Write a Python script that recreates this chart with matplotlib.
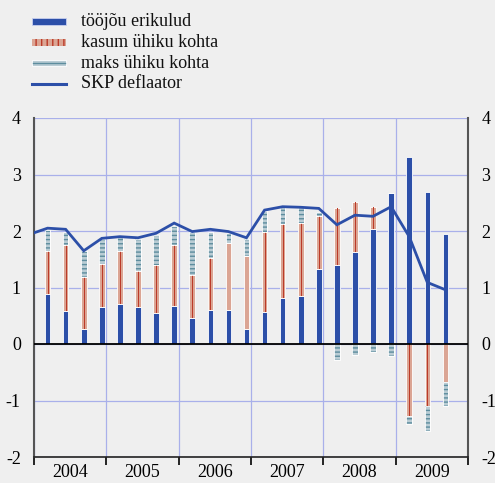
import numpy as np
import matplotlib
matplotlib.use("Agg")
import matplotlib.pyplot as plt
from matplotlib.patches import Rectangle
from matplotlib.lines import Line2D

plt.rcParams['font.family'] = ['Liberation Serif', 'DejaVu Serif']
plt.rcParams['axes.unicode_minus'] = False
plt.rcParams['hatch.linewidth'] = 1.0

# Quarterly contributions, 2004Q1 - 2009Q3 (percentage points)
years = ['2004', '2005', '2006', '2007', '2008', '2009']
labour = [0.89, 0.59, 0.26, 0.66, 0.71, 0.66, 0.55, 0.68, 0.46, 0.61, 0.60, 0.27,
          0.57, 0.82, 0.85, 1.33, 1.40, 1.63, 2.04, 2.68, 3.31, 2.69, 1.95]
profit = [0.75, 1.17, 0.93, 0.76, 0.93, 0.64, 0.84, 1.08, 0.76, 0.91, 1.19, 1.28,
          1.42, 1.31, 1.30, 0.94, 1.01, 0.89, 0.39, 0.00, -1.28, -1.10, -0.67]
tax = [0.38, 0.23, 0.45, 0.44, 0.25, 0.56, 0.54, 0.33, 0.76, 0.47, 0.17, 0.31,
       0.37, 0.29, 0.27, 0.06, -0.29, -0.20, -0.14, -0.22, -0.14, -0.44, -0.43]
# GDP deflator, starting with 2003Q4 so the line enters from the left edge
deflator = [1.94, 2.05, 2.03, 1.65, 1.87, 1.90, 1.88, 1.96, 2.14, 1.99, 2.03, 1.99, 1.88,
            2.37, 2.43, 2.42, 2.40, 2.11, 2.28, 2.26, 2.43, 1.90, 1.09, 0.96]

labels = ['tööjõu erikulud', 'kasum ühiku kohta', 'maks ühiku kohta', 'SKP deflaator']

BG = '#efefef'
BLUE = '#2c4fa8'
SALMON = '#dba594'
DARKRED = '#bb3a28'
TAXFILL = '#b9ccd4'
TAXLINE = '#5d8d9e'
GRID = '#a9b0ea'
FS = 13

W, H = 495, 483
fig = plt.figure(figsize=(W / 100, H / 100), dpi=100, facecolor=BG)
ax = fig.add_axes([34 / W, 26 / H, 434 / W, 339 / H], facecolor=BG)

n = len(labour)
x = np.arange(n) + 0.75
bw = 0.31

pos = np.zeros(n)
neg = np.zeros(n)

def stack(vals):
    vals = np.asarray(vals, dtype=float)
    bottom = np.where(vals >= 0, pos, neg)
    pos[:] += np.where(vals >= 0, vals, 0)
    neg[:] += np.where(vals < 0, vals, 0)
    return vals, bottom

v, b = stack(labour)
ax.bar(x, v, bw, bottom=b, color=BLUE, edgecolor='white', linewidth=0.6, zorder=3)

v, b = stack(profit)
ax.bar(x, v, bw, bottom=b, color=SALMON, edgecolor='white', linewidth=0.6, zorder=3)
ax.bar(x + 0.03, v, 0.045, bottom=b, color=DARKRED, linewidth=0, zorder=4)

v, b = stack(tax)
ax.bar(x, v, bw, bottom=b, color=TAXFILL, edgecolor=TAXLINE, linewidth=0,
       hatch='----', zorder=3)
ax.bar(x, v, bw, bottom=b, fill=False, edgecolor='white', linewidth=0.6, zorder=4)

xd = np.arange(len(deflator)) - 0.25
ax.plot(xd, deflator, color=BLUE, lw=2.0, zorder=5, solid_joinstyle='miter')

ax.axhline(0, color='black', lw=1.3, zorder=6)

ax.set_xlim(0, 24)
ax.set_ylim(-2, 4)

# grid and ticks
ax.set_xticks(np.arange(0, 25, 4))
ax.set_xticks(np.arange(2, 24, 4), minor=True)
ax.set_xticklabels([])
ax.set_xticklabels(years, minor=True)
ax.tick_params(axis='x', which='major', length=6, width=1.2, color='black', direction='out')
ax.tick_params(axis='x', which='minor', length=0, pad=5, labelsize=FS)
ax.set_yticks(range(-2, 5))
ax.set_yticklabels([str(t) for t in range(-2, 5)])
ax.tick_params(axis='y', left=False, right=False, labelleft=True, labelright=True,
               labelsize=FS, pad=6)
ax.grid(True, which='major', color=GRID, lw=0.9, zorder=0)
ax.set_axisbelow(True)

for s in ('left', 'right'):
    ax.spines[s].set_color('#555555')
    ax.spines[s].set_linewidth(1.5)
ax.spines['top'].set_visible(False)
ax.spines['bottom'].set_color('#222222')
ax.spines['bottom'].set_linewidth(1.2)

# legend
def fx(px):
    return px / W

def fy(py):
    return 1 - py / H

rows = [21.5, 42.5, 63.3, 84.0]
x0, x1 = 32, 66
tr = fig.transFigure
fig.add_artist(Rectangle((fx(x0), fy(rows[0] + 3)), fx(x1 - x0), 6 / H,
                         transform=tr, facecolor=BLUE, edgecolor='#c8d0ee', lw=0.6))
fig.add_artist(Rectangle((fx(x0), fy(rows[1] + 3)), fx(x1 - x0), 6 / H,
                         transform=tr, facecolor=SALMON, edgecolor=DARKRED, lw=0,
                         hatch='|||'))
fig.add_artist(Rectangle((fx(x0), fy(rows[2] + 3)), fx(x1 - x0), 6 / H,
                         transform=tr, facecolor=TAXFILL, edgecolor='white', lw=0.6))
fig.add_artist(Line2D([fx(x0 + 1), fx(x1 - 1)], [fy(rows[2]), fy(rows[2])],
                      transform=tr, color=TAXLINE, lw=1.0))
fig.add_artist(Line2D([fx(x0), fx(x1)], [fy(rows[3]), fy(rows[3])],
                      transform=tr, color=BLUE, lw=2.2))
for r, lab in zip(rows, labels):
    fig.text(fx(81), fy(r), lab, fontsize=FS, va='center', ha='left', color='#111111')

fig.savefig('out.png', dpi=100, facecolor=BG)
